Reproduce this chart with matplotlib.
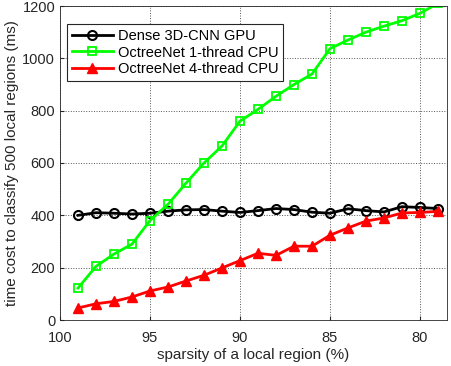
import matplotlib
matplotlib.use("Agg")
import matplotlib.pyplot as plt

plt.rcParams['font.family'] = ['Liberation Sans', 'DejaVu Sans']

sparsity = [99, 98, 97, 96, 95, 94, 93, 92, 91, 90, 89, 88, 87, 86, 85, 84, 83, 82, 81, 80, 79]
dense_gpu = [400, 410, 408, 405, 408, 416, 421, 422, 416, 411, 418, 426, 422, 412, 408,
             425, 418, 413, 433, 430, 426]
octree_1t = [122, 205, 252, 290, 380, 442, 523, 600, 665, 760, 805, 855, 900, 940, 1037,
             1070, 1100, 1123, 1144, 1172, 1210]
octree_4t = [46, 62, 71, 88, 111, 126, 149, 171, 199, 227, 255, 247, 282, 282, 324,
             352, 378, 390, 409, 411, 415]

fig = plt.figure(figsize=(4.52, 3.66), dpi=100)
ax = fig.add_axes([60 / 452, 46 / 366, 387 / 452, 314 / 366])

ax.plot(sparsity, dense_gpu, color='black', lw=2, marker='o', ms=6.5,
        mfc='none', mew=1.5, label='Dense 3D-CNN GPU')
ax.plot(sparsity, octree_1t, color='#00ff00', lw=2, marker='s', ms=6,
        mfc='none', mew=1.3, label='OctreeNet 1-thread CPU')
ax.plot(sparsity, octree_4t, color='red', lw=2, marker='^', ms=7.5,
        mfc='red', mew=1, label='OctreeNet 4-thread CPU')

ax.set_xlim(100, 78.5)
ax.set_ylim(0, 1200)
ax.set_xticks([100, 95, 90, 85, 80])
ax.set_yticks([0, 200, 400, 600, 800, 1000, 1200])
ax.grid(True, linestyle=':', color='#555555', lw=0.7)
ax.tick_params(direction='in', labelsize=10.5, colors='#262626', length=3)
ax.tick_params(axis='x', pad=8)
for s in ax.spines.values():
    s.set_color('#262626')
    s.set_linewidth(0.6)

ax.set_xlabel('sparsity of a local region (%)', fontsize=11, color='#262626', labelpad=2)
ax.set_ylabel('time cost to classify 500 local regions (ms)', fontsize=11, color='#262626',
              labelpad=2)

leg = ax.legend(loc='upper left', bbox_to_anchor=(0.0, 0.965), fontsize=10.5,
                fancybox=False, framealpha=1, edgecolor='#262626',
                handlelength=2.8, borderpad=0.3, labelspacing=0.2, handletextpad=0.4)
leg.get_frame().set_linewidth(0.8)

fig.savefig('out.png', dpi=100)
